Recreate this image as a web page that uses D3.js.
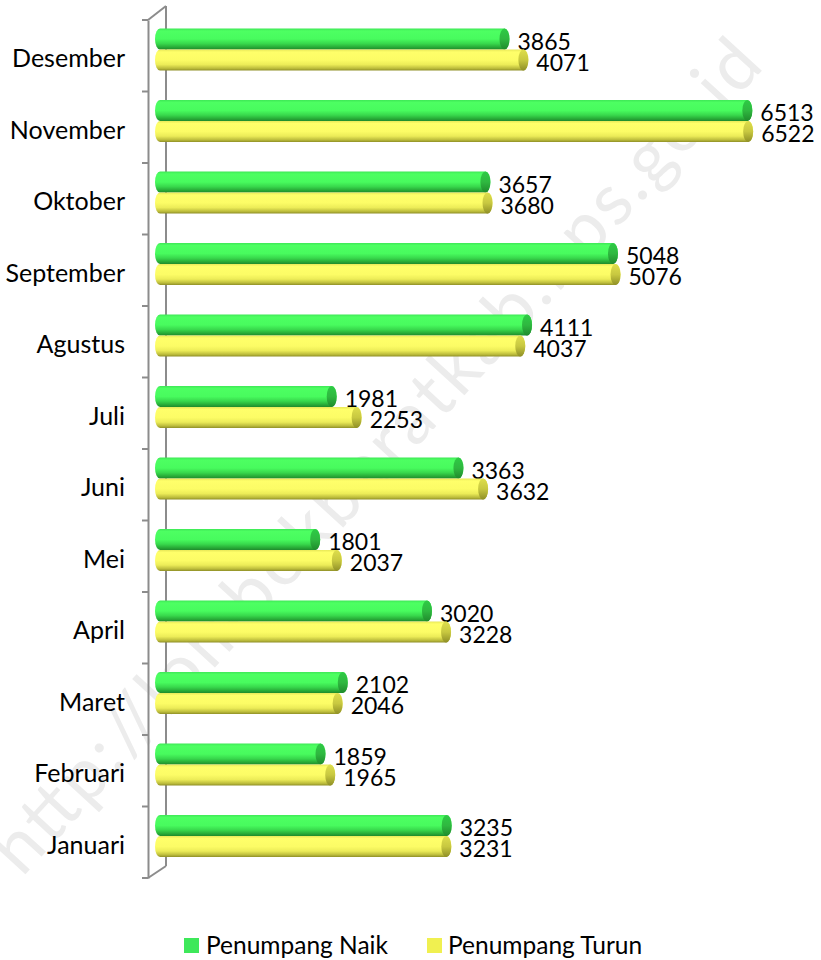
<!DOCTYPE html>
<html>
<head>
<meta charset="utf-8">
<script src="https://cdn.jsdelivr.net/npm/d3@7"></script>
<style>
  html, body { margin: 0; padding: 0; background: #fff; }
  svg { display: block; }
  text { font-family: Lato, "Open Sans", sans-serif; fill: #000; }
</style>
</head>
<body>
<script>
const months = ["Januari","Februari","Maret","April","Mei","Juni","Juli","Agustus","September","Oktober","November","Desember"];
const naik  = [3235, 1859, 2102, 3020, 1801, 3363, 1981, 4111, 5048, 3657, 6513, 3865];
const turun = [3231, 1965, 2046, 3228, 2037, 3632, 2253, 4037, 5076, 3680, 6522, 4071];
const seriesNames = ["Penumpang Naik", "Penumpang Turun"];
const watermark = "http://lombokbaratkab.bps.go.id";

const W = 821, H = 960;
const svg = d3.select("body").append("svg").attr("width", W).attr("height", H);
const defs = svg.append("defs");

function grad(id, stops) {
  const g = defs.append("linearGradient").attr("id", id)
    .attr("x1", 0).attr("y1", 0).attr("x2", 0).attr("y2", 1);
  stops.forEach(s => g.append("stop").attr("offset", s[0]).attr("stop-color", s[1]));
}
grad("gGreen", [[0, "#3ee856"], [0.12, "#4dff62"], [0.5, "#48fb5e"], [0.72, "#38d84c"], [0.9, "#27a836"], [1, "#1f8a2c"]]);
grad("gYellow", [[0, "#e8e858"], [0.12, "#ffff6a"], [0.5, "#fcfc66"], [0.72, "#ecec58"], [0.9, "#bcbc3c"], [1, "#8f8f26"]]);
grad("cGreen", [[0, "#2ecb45"], [0.5, "#2fb840"], [1, "#1f8a2c"]]);
grad("cYellow", [[0, "#dede4c"], [0.5, "#c8c840"], [1, "#8f8f26"]]);

const x = d3.scaleLinear().domain([0, 7000]).range([155, 797]);
const y = d3.scaleBand().domain(months.slice().reverse()).range([20, 878]);

// watermark (behind)
svg.append("text")
  .attr("transform", "translate(22,878) rotate(-47.5)")
  .attr("font-size", 72)
  .style("fill", "#ececec")
  .attr("textLength", 1100)
  .text(watermark);

// axis walls
const axisColor = "#8c8c8c";
const g = svg.append("g");
g.append("line").attr("x1", 166).attr("x2", 166).attr("y1", 6).attr("y2", 866)
  .attr("stroke", axisColor).attr("stroke-width", 2);
g.append("path").attr("d", `M148,${y.range()[0]} L166,6`).attr("stroke", axisColor).attr("stroke-width", 2).attr("fill", "none");
g.append("path").attr("d", `M148,${y.range()[1]} L166,866`).attr("stroke", axisColor).attr("stroke-width", 2).attr("fill", "none");

const axis = d3.axisLeft(y).tickSize(0).tickFormat("");
const axG = svg.append("g").attr("transform", "translate(148,0)").call(axis);
axG.select(".domain").attr("stroke", axisColor).attr("stroke-width", 2);
const edges = months.map((m) => y(m)).concat([y.range()[1]]);
svg.append("g").selectAll("line").data(edges).join("line")
  .attr("x1", 142).attr("x2", 148).attr("y1", d => d).attr("y2", d => d)
  .attr("stroke", axisColor).attr("stroke-width", 2);

// category labels
svg.append("g").selectAll("text").data(months).join("text")
  .attr("x", 125).attr("y", d => y(d) + y.bandwidth() / 2 + 1.5)
  .attr("text-anchor", "end").attr("dominant-baseline", "central")
  .attr("font-size", 25).text(d => d);

// bars
const bh = 21;
const series = [
  { vals: naik, off: 8.5, fill: "url(#gGreen)", cap: "url(#cGreen)" },
  { vals: turun, off: 8.5 + bh, fill: "url(#gYellow)", cap: "url(#cYellow)" }
];
const rx = 5;
series.forEach(s => {
  const gg = svg.append("g");
  months.forEach((m, i) => {
    const v = s.vals[i];
    const top = y(m) + s.off;
    const x0 = x(0), x1 = x(v);
    gg.append("path")
      .attr("d", `M${x0 + rx},${top} L${x1 - rx},${top} A${rx},${bh/2} 0 0 1 ${x1 - rx},${top + bh} L${x0 + rx},${top + bh} A${rx},${bh/2} 0 0 1 ${x0 + rx},${top} Z`)
      .attr("fill", s.fill);
    gg.append("ellipse").attr("cx", x1 - rx).attr("cy", top + bh / 2)
      .attr("rx", rx).attr("ry", bh / 2).attr("fill", s.cap);
    gg.append("text").attr("x", x1 + 8).attr("y", top + bh / 2 + 10.5)
      .attr("font-size", 23).text(v);
  });
});

// legend
const leg = svg.append("g");
const legItems = [
  { name: seriesNames[0], color: "#3ee85a", x: 184, tx: 206 },
  { name: seriesNames[1], color: "#f0f050", x: 427, tx: 448 }
];
legItems.forEach(li => {
  leg.append("rect").attr("x", li.x).attr("y", 938).attr("width", 15).attr("height", 15).attr("fill", li.color);
  leg.append("text").attr("x", li.tx).attr("y", 953.5).attr("font-size", 24.5).text(li.name);
});
</script>
</body>
</html>
